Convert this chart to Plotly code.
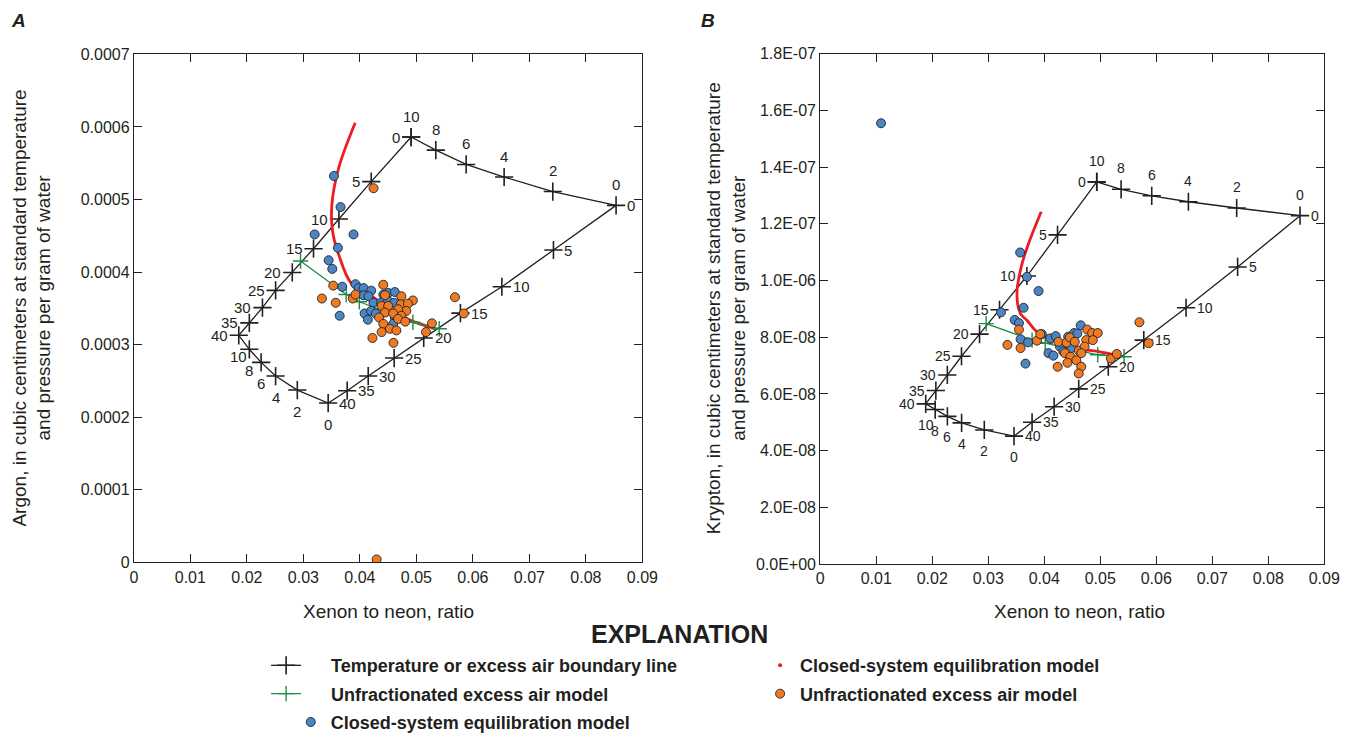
import plotly.graph_objects as go

SANS = "Liberation Sans, Arial, Helvetica, sans-serif"

# ---------------- Panel A : Argon vs Xe/Ne ----------------
ea_labels = ["10", "8", "6", "4", "2", "0"]          # along T = 0 line (EA 10 -> 0)
t_labels = ["0", "5", "10", "15", "20", "25", "30", "35", "40"]
ea_up = ["0", "2", "4", "6", "8", "10"]               # along T = 40 line (EA 0 -> 10)
t_down = ["40", "35", "30", "25", "20", "15", "10", "5", "0"]

a_t0_x = [0.04908, 0.05344, 0.05881, 0.06553, 0.07414, 0.08534]
a_t0_y = [5.861e-4, 5.680e-4, 5.483e-4, 5.310e-4, 5.110e-4, 4.919e-4]
a_ea0_x = [0.08534, 0.07426, 0.06513, 0.05780, 0.05130, 0.04607, 0.04148, 0.03775, 0.03439]
a_ea0_y = [4.919e-4, 4.304e-4, 3.798e-4, 3.434e-4, 3.092e-4, 2.815e-4, 2.567e-4, 2.365e-4, 2.195e-4]
a_t40_x = [0.03439, 0.02893, 0.02509, 0.02253, 0.02044, 0.01857]
a_t40_y = [2.195e-4, 2.374e-4, 2.567e-4, 2.756e-4, 2.936e-4, 3.129e-4]
a_ea10_x = [0.01857, 0.02044, 0.02276, 0.02509, 0.02804, 0.03180, 0.03629, 0.04201, 0.04908]
a_ea10_y = [3.129e-4, 3.300e-4, 3.510e-4, 3.748e-4, 3.995e-4, 4.322e-4, 4.731e-4, 5.246e-4, 5.861e-4]

a_green_x = [0.02950, 0.03758, 0.03991, 0.04938, 0.05404]
a_green_y = [4.152e-4, 3.690e-4, 3.591e-4, 3.308e-4, 3.219e-4]

a_red_x = [0.03918, 0.03623, 0.03505, 0.03517, 0.03623, 0.03857, 0.04238, 0.04589, 0.04908, 0.05344]
a_red_y = [6.057e-4, 5.429e-4, 4.928e-4, 4.563e-4, 4.247e-4, 3.834e-4, 3.650e-4, 3.465e-4, 3.331e-4, 3.219e-4]

a_blue_x = [0.03541, 0.03658, 0.03200, 0.03888, 0.03611, 0.03447, 0.03512, 0.03688, 0.03922, 0.03979,
            0.04066, 0.04200, 0.04066, 0.04153, 0.04415, 0.04502, 0.04619, 0.04241, 0.04375, 0.04502,
            0.04607, 0.04084, 0.04200, 0.04281, 0.04141, 0.03643, 0.04619, 0.04589]
a_blue_y = [5.324e-4, 4.896e-4, 4.519e-4, 4.519e-4, 4.335e-4, 4.163e-4, 4.044e-4, 3.798e-4, 3.833e-4, 3.779e-4,
            3.779e-4, 3.744e-4, 3.681e-4, 3.667e-4, 3.690e-4, 3.712e-4, 3.725e-4, 3.577e-4, 3.577e-4, 3.600e-4,
            3.577e-4, 3.429e-4, 3.465e-4, 3.429e-4, 3.344e-4, 3.398e-4, 3.375e-4, 3.286e-4]

a_orange_x = [0.04242, 0.03529, 0.03329, 0.03573, 0.03874, 0.03922, 0.04415, 0.04445, 0.04734, 0.04938,
              0.04385, 0.04502, 0.04724, 0.04851, 0.04821, 0.04677, 0.04445, 0.04589, 0.04734, 0.04340,
              0.04415, 0.04677, 0.04804, 0.04385, 0.04532, 0.04647, 0.04223, 0.04595, 0.05275, 0.05170,
              0.05683, 0.05840, 0.04297]
a_orange_y = [5.156e-4, 3.813e-4, 3.636e-4, 3.577e-4, 3.636e-4, 3.690e-4, 3.825e-4, 3.681e-4, 3.667e-4, 3.609e-4,
              3.533e-4, 3.533e-4, 3.556e-4, 3.564e-4, 3.465e-4, 3.488e-4, 3.442e-4, 3.429e-4, 3.398e-4, 3.375e-4,
              3.286e-4, 3.354e-4, 3.317e-4, 3.173e-4, 3.219e-4, 3.196e-4, 3.092e-4, 3.025e-4, 3.294e-4, 3.173e-4,
              3.654e-4, 3.429e-4, 0.04e-4]

# ---------------- Panel B : Krypton vs Xe/Ne ----------------
b_t0_x = [0.04938, 0.05373, 0.05920, 0.06575, 0.07437, 0.08568]
b_t0_y = [13.48e-8, 13.22e-8, 12.99e-8, 12.78e-8, 12.56e-8, 12.29e-8]
b_ea0_x = [0.08568, 0.07454, 0.06533, 0.05778, 0.05144, 0.04616, 0.04177, 0.03783, 0.03461]
b_ea0_y = [12.29e-8, 10.48e-8, 9.04e-8, 7.90e-8, 6.96e-8, 6.18e-8, 5.55e-8, 5.00e-8, 4.51e-8]
b_t40_x = [0.03461, 0.02930, 0.02525, 0.02271, 0.02053, 0.01884]
b_t40_y = [4.51e-8, 4.73e-8, 4.98e-8, 5.21e-8, 5.45e-8, 5.65e-8]
b_ea10_x = [0.01884, 0.02065, 0.02270, 0.02523, 0.02845, 0.03202, 0.03691, 0.04238, 0.04938]
b_ea10_y = [5.65e-8, 6.12e-8, 6.67e-8, 7.33e-8, 8.11e-8, 8.97e-8, 10.16e-8, 11.61e-8, 13.48e-8]

b_green_x = [0.02963, 0.03783, 0.04018, 0.04956, 0.05426]
b_green_y = [8.48e-8, 7.90e-8, 7.79e-8, 7.38e-8, 7.31e-8]

b_red_x = [0.03946, 0.03719, 0.03589, 0.03513, 0.03571, 0.03695, 0.03871, 0.04252, 0.04604, 0.04956, 0.05250, 0.05378]
b_red_y = [12.43e-8, 11.30e-8, 10.48e-8, 9.55e-8, 8.85e-8, 8.59e-8, 8.19e-8, 7.80e-8, 7.59e-8, 7.50e-8, 7.38e-8, 7.33e-8]

b_blue_x = [0.03571, 0.03691, 0.03899, 0.03631, 0.03228, 0.03473, 0.03549, 0.03578, 0.03712, 0.03666,
            0.03958, 0.04106, 0.04205, 0.04076, 0.04164, 0.04282, 0.04428, 0.04534, 0.04652, 0.04592,
            0.04486, 0.04340, 0.01086]
b_blue_y = [10.99e-8, 10.13e-8, 9.63e-8, 9.04e-8, 8.88e-8, 8.61e-8, 8.50e-8, 7.93e-8, 7.82e-8, 7.07e-8,
            8.11e-8, 7.96e-8, 8.04e-8, 7.44e-8, 7.35e-8, 7.67e-8, 8.02e-8, 8.15e-8, 8.42e-8, 8.13e-8,
            7.62e-8, 7.50e-8, 15.55e-8]

b_orange_x = [0.03343, 0.03549, 0.03578, 0.03871, 0.03930, 0.04252, 0.04398, 0.04458, 0.04546, 0.04370,
              0.04469, 0.04616, 0.04750, 0.04722, 0.04768, 0.04856, 0.04956, 0.04868, 0.04662, 0.04574,
              0.04416, 0.04240, 0.04662, 0.04616, 0.05190, 0.05296, 0.05700, 0.05866]
b_orange_y = [7.73e-8, 8.27e-8, 7.62e-8, 7.88e-8, 8.11e-8, 7.84e-8, 7.81e-8, 7.99e-8, 7.84e-8, 7.44e-8,
              7.31e-8, 7.53e-8, 7.90e-8, 7.67e-8, 8.27e-8, 8.15e-8, 8.15e-8, 7.90e-8, 7.44e-8, 7.19e-8,
              7.10e-8, 6.96e-8, 6.96e-8, 6.72e-8, 7.25e-8, 7.41e-8, 8.53e-8, 7.79e-8]

x_ticks = [0, 0.01, 0.02, 0.03, 0.04, 0.05, 0.06, 0.07, 0.08, 0.09]
x_ticktext = ["0", "0.01", "0.02", "0.03", "0.04", "0.05", "0.06", "0.07", "0.08", "0.09"]
a_yticks = [0, 1e-4, 2e-4, 3e-4, 4e-4, 5e-4, 6e-4, 7e-4]
a_yticktext = ["0", "0.0001", "0.0002", "0.0003", "0.0004", "0.0005", "0.0006", "0.0007"]
b_yticks = [0, 2e-8, 4e-8, 6e-8, 8e-8, 10e-8, 12e-8, 14e-8, 16e-8, 18e-8]
b_yticktext = ["0.0E+00", "2.0E-08", "4.0E-08", "6.0E-08", "8.0E-08", "1.0E-06",
               "1.2E-07", "1.4E-07", "1.6E-07", "1.8E-07"]

BLACK = "#231f20"
GREEN = "#1e8c45"
RED = "#ed1c24"
BLUE = "#4a86c5"
ORANGE = "#f07a22"

PAD = "\u00a0" * 5  # extra gap between a line symbol and its legend text

fig = go.Figure()


def add_panel(xa, ya, t0x, t0y, ea0x, ea0y, t40x, t40y, ea10x, ea10y,
              gx, gy, rx, ry, bx, by, ox, oy, legend):
    px_ = t0x + ea0x[1:] + t40x[1:] + ea10x[1:]
    py_ = t0y + ea0y[1:] + t40y[1:] + ea10y[1:]
    fig.add_trace(go.Scatter(x=px_, y=py_, xaxis=xa, yaxis=ya, mode="lines+markers",
                             line=dict(color=BLACK, width=1.3),
                             marker=dict(symbol="cross-thin", size=13, line=dict(color=BLACK, width=1.6)),
                             name=PAD + "Temperature or excess air boundary line", showlegend=legend,
                             legend="legend", legendrank=1, hoverinfo="skip"))
    fig.add_trace(go.Scatter(x=rx, y=ry, xaxis=xa, yaxis=ya, mode="lines",
                             line=dict(color=RED, width=2.8, shape="spline"),
                             showlegend=False, hoverinfo="skip"))
    fig.add_trace(go.Scatter(x=gx, y=gy, xaxis=xa, yaxis=ya, mode="lines+markers",
                             line=dict(color=GREEN, width=1.3),
                             marker=dict(symbol="cross-thin", size=11, line=dict(color=GREEN, width=1.4)),
                             name=PAD + "Unfractionated excess air model", showlegend=legend,
                             legend="legend2", legendrank=1, hoverinfo="skip"))
    fig.add_trace(go.Scatter(x=bx, y=by, xaxis=xa, yaxis=ya, mode="markers",
                             marker=dict(color=BLUE, size=9, line=dict(color="#222222", width=0.9)),
                             name="Closed-system equilibration model", showlegend=legend,
                             legend="legend3", legendrank=1))
    fig.add_trace(go.Scatter(x=ox, y=oy, xaxis=xa, yaxis=ya, mode="markers",
                             marker=dict(color=ORANGE, size=9, line=dict(color="#222222", width=0.9)),
                             name="Unfractionated excess air model", showlegend=legend,
                             legend="legend2", legendrank=2))


add_panel("x", "y", a_t0_x, a_t0_y, a_ea0_x, a_ea0_y, a_t40_x, a_t40_y, a_ea10_x, a_ea10_y,
          a_green_x, a_green_y, a_red_x, a_red_y, a_blue_x, a_blue_y, a_orange_x, a_orange_y, True)
add_panel("x2", "y2", b_t0_x, b_t0_y, b_ea0_x, b_ea0_y, b_t40_x, b_t40_y, b_ea10_x, b_ea10_y,
          b_green_x, b_green_y, b_red_x, b_red_y, b_blue_x, b_blue_y, b_orange_x, b_orange_y, False)

# legend-only entry for the red model line (shown as a dot in the explanation)
fig.add_trace(go.Scatter(x=[None], y=[None], mode="markers", marker=dict(color=RED, size=4),
                         name="Closed-system equilibration model", legend="legend", legendrank=2))

ann = []


def point_labels(xr, yr, xs, ys, labels, side, font):
    for x, y, t in zip(xs, ys, labels):
        d = dict(x=x, y=y, xref=xr, yref=yr, text=t, showarrow=False, font=font)
        if side == "up":
            d.update(yshift=21)
        elif side == "down":
            d.update(yshift=-21)
        elif side == "right":
            d.update(xanchor="left", xshift=9)
        else:
            d.update(xanchor="right", xshift=-9)
        ann.append(d)


fa = dict(family=SANS, size=15, color=BLACK)
fb = dict(family=SANS, size=14, color=BLACK)
for xr, yr, seg, f in [("x", "y", (a_t0_x, a_t0_y, a_ea0_x, a_ea0_y, a_t40_x, a_t40_y, a_ea10_x, a_ea10_y), fa),
                       ("x2", "y2", (b_t0_x, b_t0_y, b_ea0_x, b_ea0_y, b_t40_x, b_t40_y, b_ea10_x, b_ea10_y), fb)]:
    point_labels(xr, yr, seg[0], seg[1], ea_labels, "up", f)
    point_labels(xr, yr, seg[2], seg[3], t_labels, "right", f)
    point_labels(xr, yr, seg[4], seg[5], ea_up, "down", f)
    point_labels(xr, yr, seg[6], seg[7], t_down, "left", f)

title_font = dict(family=SANS, size=19, color=BLACK)


def paper_note(px, py, text, font, angle=0):
    return dict(x=px / 1364, y=1 - py / 744, xref="paper", yref="paper", text=text,
                showarrow=False, font=font, xanchor="center", yanchor="middle", textangle=angle)


ann += [
    paper_note(15, 13, "<b><i>A</i></b>", dict(family=SANS, size=19, color=BLACK)),
    paper_note(714, 13, "<b><i>B</i></b>", dict(family=SANS, size=19, color=BLACK)),
    paper_note(28, 307, "Argon, in cubic centimeters at standard temperature<br>and pressure per gram of water",
               title_font, -90),
    paper_note(733, 307, "Krypton, in cubic centimeters at standard temperature<br>and pressure per gram of water",
               title_font, -90),
    paper_note(390, 618, "Xenon to neon, ratio", title_font),
    paper_note(1092, 618, "Xenon to neon, ratio", title_font),
    paper_note(686, 641, "<b>EXPLANATION</b>", dict(family=SANS, size=25, color=BLACK)),
]

axis_common = dict(showline=True, linecolor=BLACK, linewidth=1, mirror="ticks", ticks="inside",
                   ticklen=8, tickcolor=BLACK, showgrid=False, zeroline=False,
                   tickfont=dict(family=SANS, size=16, color=BLACK))

leg_font = dict(family=SANS, size=18, color=BLACK, weight="bold")


def legend_row(py, left_px, width):
    return dict(orientation="h", x=left_px / 1364, y=1 - py / 744, xanchor="left", yanchor="middle",
                entrywidth=width, entrywidthmode="pixels", bgcolor="rgba(0,0,0,0)",
                font=leg_font, traceorder="normal")


fig.update_layout(
    width=1364, height=744, margin=dict(l=0, r=0, t=0, b=0),
    paper_bgcolor="white", plot_bgcolor="white",
    xaxis=dict(domain=[0.0966, 0.4750], range=[0, 0.09], tickvals=x_ticks, ticktext=x_ticktext,
               anchor="y", **axis_common),
    yaxis=dict(domain=[0.2375, 0.9362], range=[0, 0.0007], tickvals=a_yticks, ticktext=a_yticktext,
               anchor="x", **axis_common),
    xaxis2=dict(domain=[0.6073, 0.9823], range=[0, 0.09], tickvals=x_ticks, ticktext=x_ticktext,
                anchor="y2", **axis_common),
    yaxis2=dict(domain=[0.2352, 0.937], range=[0, 1.8e-7], tickvals=b_yticks, ticktext=b_yticktext,
                anchor="x2", **axis_common),
    annotations=ann,
    showlegend=True,
    legend=legend_row(673, 266, 449),
    legend2=legend_row(702, 266, 449),
    legend3=legend_row(731, 291, 424),
)

fig.write_html("out.html")
